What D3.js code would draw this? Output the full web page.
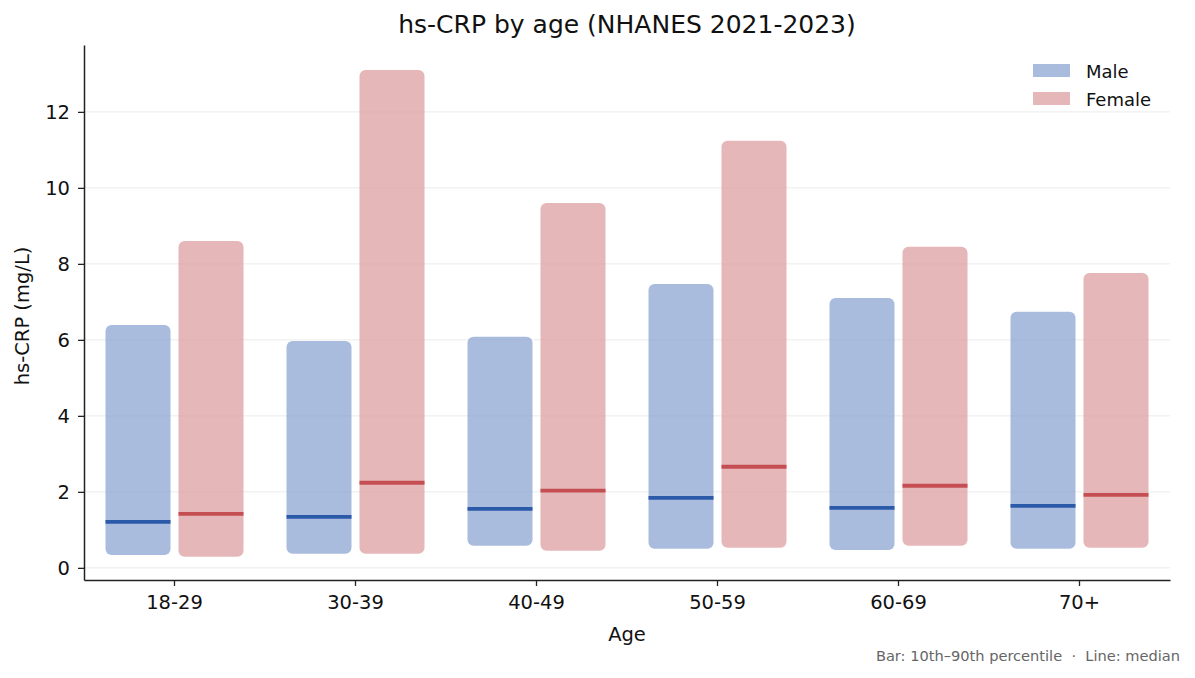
<!DOCTYPE html>
<meta charset="utf-8">
<script src="https://d3js.org/d3.v7.min.js"></script>
<style>
  body { margin: 0; background: #fff; }
  text { font-family: "DejaVu Sans", sans-serif; }
</style>
<div id="chart"></div>
<script>

// age groups and percentile values
var ages = ["18-29", "30-39", "40-49", "50-59", "60-69", "70+"];
var maleP10 = [0.34, 0.37, 0.58, 0.50, 0.47, 0.50];
var maleP90 = [6.39, 5.97, 6.08, 7.47, 7.10, 6.74];
var maleMedian = [1.21, 1.34, 1.55, 1.84, 1.58, 1.63];
var femaleP10 = [0.29, 0.37, 0.45, 0.53, 0.58, 0.53];
var femaleP90 = [8.60, 13.10, 9.60, 11.24, 8.45, 7.76];
var femaleMedian = [1.42, 2.24, 2.03, 2.66, 2.16, 1.92];
var yTicks = [0, 2, 4, 6, 8, 10, 12];

var W = 1195, H = 678;
var margin = {top: 45, right: 25, bottom: 98, left: 84},
    width = W - margin.left - margin.right,
    height = H - margin.top - margin.bottom;

var svg = d3.select("#chart").append("svg")
    .attr("width", W).attr("height", H);

var g = svg.append("g")
    .attr("transform", "translate(" + margin.left + "," + margin.top + ")");

var x = d3.scaleBand().domain(ages).range([0, width]).padding(0);
var y = d3.scaleLinear().domain([-0.32, 13.76]).range([height, 0]);

// gridlines
g.append("g").selectAll("line")
  .data(yTicks).enter().append("line")
    .attr("x1", 0).attr("x2", width)
    .attr("y1", function(d) { return y(d); })
    .attr("y2", function(d) { return y(d); })
    .attr("stroke", "#e6e6e6").attr("stroke-width", 0.8);

var barW = 65, off = 36.5;
var series = [
  {name: "Male", lo: maleP10, hi: maleP90, med: maleMedian, dx: -off, fill: "#8ea6d3", line: "#2b5aa8"},
  {name: "Female", lo: femaleP10, hi: femaleP90, med: femaleMedian, dx: off, fill: "#de9fa1", line: "#c44e52"}
];

series.forEach(function(s) {
  var rows = ages.map(function(a, i) { return {age: a, lo: s.lo[i], hi: s.hi[i], med: s.med[i]}; });
  var cx = function(d) { return x(d.age) + x.bandwidth() / 2 + s.dx; };
  g.append("g").selectAll("rect")
    .data(rows).enter().append("rect")
      .attr("x", function(d) { return cx(d) - barW / 2; })
      .attr("y", function(d) { return y(d.hi); })
      .attr("width", barW)
      .attr("height", function(d) { return y(d.lo) - y(d.hi); })
      .attr("rx", 6).attr("ry", 6)
      .attr("fill", s.fill).attr("fill-opacity", 0.75);
  g.append("g").selectAll("line")
    .data(rows).enter().append("line")
      .attr("x1", function(d) { return cx(d) - barW / 2; })
      .attr("x2", function(d) { return cx(d) + barW / 2; })
      .attr("y1", function(d) { return y(d.med); })
      .attr("y2", function(d) { return y(d.med); })
      .attr("stroke", s.line).attr("stroke-width", 3.8);
});

// axes
var xAxis = g.append("g")
    .attr("transform", "translate(0," + height + ")")
    .call(d3.axisBottom(x).tickSize(6).tickSizeOuter(0).tickPadding(9));
var yAxis = g.append("g")
    .call(d3.axisLeft(y).tickValues(yTicks).tickSize(6).tickSizeOuter(0).tickPadding(8));
[xAxis, yAxis].forEach(function(a) {
  a.selectAll("text").attr("font-size", 19.5).attr("fill", "#111").style("font-family", "DejaVu Sans, sans-serif");
  a.selectAll("line").attr("stroke", "#222").attr("stroke-width", 1.3);
  a.select(".domain").attr("stroke", "#222").attr("stroke-width", 1.5);
});

// titles
svg.append("text").attr("x", margin.left + width / 2).attr("y", 33)
  .attr("text-anchor", "middle").attr("font-size", 25).attr("fill", "#111")
  .text("hs-CRP by age (NHANES 2021-2023)");
svg.append("text").attr("x", margin.left + width / 2).attr("y", 641)
  .attr("text-anchor", "middle").attr("font-size", 19.5).attr("fill", "#111")
  .text("Age");
svg.append("text").attr("transform", "translate(29,316) rotate(-90)")
  .attr("text-anchor", "middle").attr("font-size", 19.5).attr("fill", "#111")
  .text("hs-CRP (mg/L)");
svg.append("text").attr("x", 1180).attr("y", 661)
  .attr("text-anchor", "end").attr("font-size", 14.6).attr("fill", "#666")
  .text("Bar: 10th\u201390th percentile \u00a0\u00b7\u00a0 Line: median");

// legend
var legend = svg.append("g").attr("transform", "translate(1033,64)");
series.forEach(function(s, i) {
  legend.append("rect").attr("x", 0).attr("y", i * 28).attr("width", 37).attr("height", 13)
    .attr("fill", s.fill).attr("fill-opacity", 0.75);
  legend.append("text").attr("x", 53).attr("y", i * 28 + 14)
    .attr("font-size", 18).attr("fill", "#111").text(s.name);
});
</script>
